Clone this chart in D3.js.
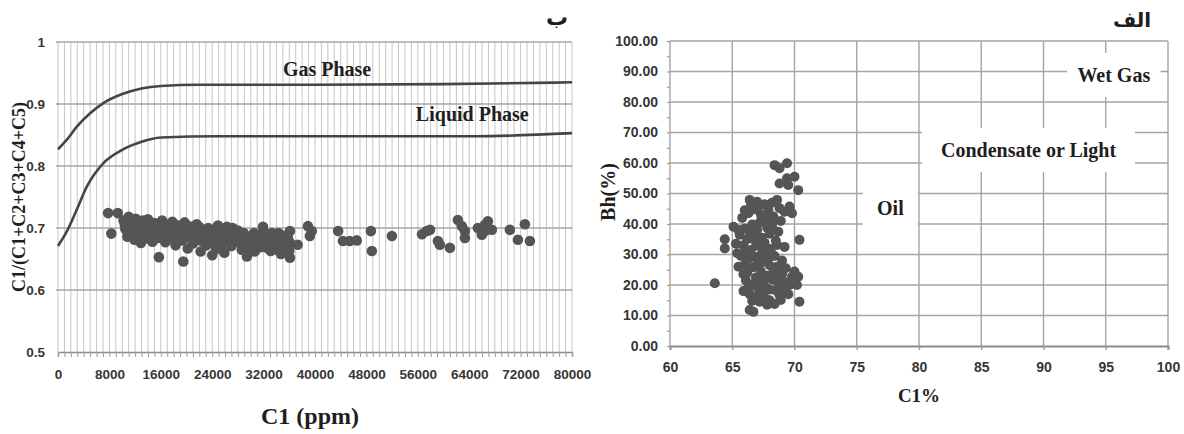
<!DOCTYPE html>
<html>
<head>
<meta charset="utf-8">
<script src="https://cdn.jsdelivr.net/npm/d3@7"></script>
<style>
  body { margin: 0; background: #fff; }
  svg { display: block; }
  .tick text { font-family: "Liberation Sans Narrow", "Arial Narrow", "Liberation Sans", sans-serif; font-weight: bold; fill: #363636; }
  .serif { font-family: "Liberation Serif", "Times New Roman", serif; font-weight: bold; fill: #1e1e1e; }
  .arabic { font-family: "DejaVu Sans", sans-serif; font-weight: bold; fill: #1e1e1e; }
</style>
</head>
<body>
<svg id="chart" width="1184" height="434"></svg>
<script>
// ---------- Left panel: C1/(C1+...+C5) against C1 (ppm) ----------
const ppmTicks = [0, 8000, 16000, 24000, 32000, 40000, 48000, 56000, 64000, 72000, 80000];
const ratioTicks = [0.5, 0.6, 0.7, 0.8, 0.9, 1];

// Boundary curves
const gasPhaseC1 = [0, 1350, 2900, 5000, 7000, 10000, 13000, 16000, 22000, 40000, 60000, 80000];
const gasPhaseRatio = [0.827, 0.842, 0.863, 0.885, 0.901, 0.916, 0.925, 0.929, 0.931, 0.931, 0.932, 0.935];
const liquidPhaseC1 = [0, 1350, 2900, 4500, 7000, 10000, 13000, 16000, 25000, 50000, 65000, 80000];
const liquidPhaseRatio = [0.671, 0.694, 0.729, 0.767, 0.804, 0.826, 0.839, 0.846, 0.848, 0.848, 0.848, 0.853];

// Samples: [C1 ppm, ratio]
const ratioSamples = [
  [7800,0.724],[9300,0.724],[8300,0.691],
  [10200,0.712],[10500,0.698],[10800,0.686],[11000,0.718],[11300,0.704],[11600,0.692],[11900,0.681],
  [12100,0.715],[12400,0.700],[12700,0.688],[12900,0.676],[13200,0.712],[13500,0.697],[13800,0.683],
  [14000,0.714],[14200,0.703],[14500,0.690],[14700,0.678],[15000,0.708],[15300,0.695],[15500,0.684],
  [15700,0.653],[15900,0.700],[16200,0.712],[16400,0.689],[16700,0.677],[17000,0.705],[17200,0.694],
  [17500,0.683],[17800,0.710],[18000,0.699],[18300,0.672],[18500,0.688],[18800,0.704],[19000,0.693],
  [19300,0.680],[19500,0.646],[19700,0.709],[20000,0.698],[20200,0.667],[20500,0.686],[20800,0.702],
  [21000,0.675],[21300,0.693],[21600,0.706],[21900,0.682],[22200,0.662],[22500,0.697],[22800,0.688],
  [23100,0.672],[23400,0.700],[23700,0.683],[24000,0.656],[24300,0.693],[24600,0.666],[24900,0.704],
  [25200,0.679],[25500,0.690],[25900,0.660],[26300,0.702],[26600,0.685],[27000,0.671],[27400,0.693],
  [27800,0.679],[28200,0.688],[28600,0.665],[29000,0.684],[29400,0.654],[29800,0.675],[30200,0.688],
  [30600,0.662],[31000,0.681],[31500,0.669],[31900,0.702],[32300,0.687],[32700,0.674],[33100,0.663],
  [33500,0.684],[33900,0.671],[34300,0.692],[34700,0.658],[35100,0.680],[35600,0.667],[36100,0.695],
  [36100,0.676],[36000,0.663],[36100,0.652],[37300,0.673],[38900,0.703],[39500,0.695],[39200,0.687],
  [10400,0.705],[10900,0.694],[11400,0.711],[11800,0.698],[12300,0.707],[12600,0.694],[13100,0.703],
  [13400,0.690],[13700,0.706],[14100,0.695],[14400,0.684],[14900,0.701],[15200,0.688],[15600,0.706],
  [16000,0.694],[16500,0.703],[16900,0.690],[17300,0.700],[17700,0.688],[18100,0.706],[18400,0.695],
  [18900,0.684],[19200,0.700],[19600,0.690],[20100,0.704],[20400,0.693],[20900,0.680],[21200,0.699],
  [21700,0.689],[22100,0.701],[22400,0.679],[22900,0.694],[23300,0.685],[23800,0.696],[24200,0.676],
  [24700,0.688],[25100,0.698],[25600,0.674],[26000,0.694],[26900,0.680],[27200,0.700],[27600,0.686],
  [28000,0.696],[28400,0.676],[28900,0.692],[29300,0.668],[29700,0.685],[30100,0.675],[30500,0.692],
  [30900,0.670],[31300,0.689],[31700,0.676],[32100,0.693],[32500,0.668],[32900,0.682],[33300,0.692],
  [33700,0.676],[34100,0.665],[34500,0.681],[34900,0.688],[35300,0.672],[35800,0.684],
  [43600,0.695],[44350,0.679],[45400,0.679],[46500,0.680],[48700,0.695],[48850,0.663],[51970,0.687],
  [56650,0.690],[57400,0.695],[57900,0.697],[59130,0.679],[59440,0.673],[61000,0.668],[62240,0.713],
  [62860,0.703],[63330,0.695],[63330,0.684],[65350,0.700],[65970,0.689],[66440,0.705],[66910,0.711],
  [67530,0.697],[66440,0.695],[70330,0.697],[71580,0.681],[72670,0.706],[73450,0.679]
];

// ---------- Right panel: Bh(%) against C1% ----------
const c1PctTicks = [60, 65, 70, 75, 80, 85, 90, 95, 100];
const bhTicks = [0, 10, 20, 30, 40, 50, 60, 70, 80, 90, 100];
const zoneNames = ["Wet Gas", "Condensate or Light", "Oil"];

// Samples: [C1 %, Bh %]
const bhSamples = [
  [68.4,59.3],[68.8,58.3],[69.4,59.9],[68.8,53.3],[69.4,55.0],[70.0,55.5],[69.5,52.8],[70.3,51.1],
  [63.6,20.6],[70.4,34.8],[70.4,14.5],[66.4,11.8],[66.7,11.2],[64.4,35.0],[64.4,32.0],[65.1,39.1],
  [65.4,30.4],[66.0,26.6],[66.4,47.9],[67.0,47.3],[67.6,46.5],[68.2,47.0],[68.6,47.9],[69.6,45.7],
  [69.8,43.5],[69.2,44.0],[68.6,33.1],[68.6,26.0],[68.8,16.6],[68.9,15.1],[70.0,24.4],[70.3,22.7],
  [70.2,20.0],[69.8,22.7],[65.8,42.0],[66.3,43.5],[66.8,44.8],[67.3,43.0],[67.9,44.5],[68.3,42.5],
  [68.9,41.0],[66.0,38.5],[66.6,39.8],[67.2,40.5],[67.8,38.8],[68.2,40.0],[68.7,37.5],[65.6,36.5],
  [66.2,35.0],[66.8,36.2],[67.4,35.5],[68.0,36.8],[68.5,34.5],[65.9,33.0],[66.5,31.5],[67.1,32.8],
  [67.6,30.8],[68.1,31.8],[66.3,28.5],[66.9,29.2],[67.4,27.5],[67.9,28.8],[68.4,29.5],[65.5,26.0],
  [66.2,24.0],[66.7,25.8],[67.3,24.5],[67.8,23.0],[68.3,24.2],[69.0,23.5],[69.3,25.5],[66.1,21.5],
  [66.6,20.0],[67.2,21.0],[67.7,19.2],[68.2,21.8],[68.7,20.5],[69.2,21.0],[65.9,18.0],[66.4,17.0],
  [67.0,16.2],[67.5,17.8],[68.0,15.0],[68.4,13.8],[67.8,13.5],[67.2,14.5],[66.6,14.8],[69.6,20.0],
  [69.5,17.0],[65.7,29.5],[69.0,28.0],[69.2,32.5],
  [66.0,44.5],[66.5,46.0],[67.1,45.5],[67.7,41.8],[67.0,38.0],[66.4,37.5],[67.6,33.8],[66.9,34.0],
  [68.3,38.2],[66.0,30.5],[67.3,29.8],[68.0,26.5],[67.0,26.8],[65.9,23.5],[66.9,22.5],[68.5,22.8],
  [67.5,21.5],[66.3,19.0],[67.1,18.8],[68.5,18.2],[68.0,18.5],[66.7,16.0],[67.6,15.8],[69.1,18.8],
  [65.3,33.5],[65.5,38.0],[68.8,45.2]
];

const svg = d3.select("#chart");
const dotColor = "#555555";

// ===== Left panel =====
const xL = d3.scaleLinear().domain([0, 80000]).range([58, 572]);
const yL = d3.scaleLinear().domain([0.5, 1]).range([352, 42]);
const left = svg.append("g");

// vertical grid every 1000 ppm
left.append("g").selectAll("line")
  .data(d3.range(0, 80001, 1000))
  .join("line")
  .attr("x1", d => xL(d)).attr("x2", d => xL(d))
  .attr("y1", yL(1)).attr("y2", yL(0.5))
  .attr("stroke", "#c6c6c6").attr("stroke-width", 1);

// horizontal grid
left.append("g").selectAll("line")
  .data(ratioTicks.slice(1))
  .join("line")
  .attr("x1", xL(0) - 2).attr("x2", xL(80000))
  .attr("y1", d => yL(d)).attr("y2", d => yL(d))
  .attr("stroke", "#a6a6a6").attr("stroke-width", 1.5);

// x axis: minor ticks then labelled ticks
const minorL = left.append("g").attr("transform", `translate(0,${yL(0.5)})`)
  .call(d3.axisBottom(xL).tickValues(d3.range(0, 80001, 1000)).tickSize(5).tickFormat(""));
minorL.selectAll("line").attr("stroke", "#9a9a9a");
minorL.select(".domain").attr("stroke", "#8c8c8c").attr("stroke-width", 1.5);

const axL = left.append("g").attr("transform", `translate(0,${yL(0.5)})`)
  .call(d3.axisBottom(xL).tickValues(ppmTicks).tickSize(0).tickPadding(17).tickFormat(d3.format("d")));
axL.select(".domain").remove();
axL.selectAll("text").style("font-size", "13.5px");

const ayL = left.append("g").attr("transform", `translate(${xL(0)},0)`)
  .call(d3.axisLeft(yL).tickValues(ratioTicks).tickSize(0).tickPadding(13)
    .tickFormat(d => d === 1 ? "1" : d.toFixed(1)));
ayL.select(".domain").remove();
ayL.selectAll("text").style("font-size", "13.5px");

// boundary curves
const curve = d3.line().x(d => xL(d[0])).y(d => yL(d[1])).curve(d3.curveMonotoneX);
[[gasPhaseC1, gasPhaseRatio], [liquidPhaseC1, liquidPhaseRatio]].forEach(([xs, ys]) => {
  left.append("path")
    .datum(xs.map((x, i) => [x, ys[i]]))
    .attr("d", curve)
    .attr("fill", "none")
    .attr("stroke", "#454545")
    .attr("stroke-width", 2.6);
});

// samples
left.append("g").selectAll("circle")
  .data(ratioSamples)
  .join("circle")
  .attr("cx", d => xL(d[0])).attr("cy", d => yL(d[1]))
  .attr("r", 5.3).attr("fill", dotColor);

// curve names
left.append("text").attr("class", "serif")
  .attr("x", xL(35000)).attr("y", yL(0.945))
  .style("font-size", "20px").text("Gas Phase");
left.append("text").attr("class", "serif")
  .attr("x", xL(55700)).attr("y", yL(0.873))
  .style("font-size", "20px").text("Liquid Phase");

// axis titles
left.append("text").attr("class", "serif")
  .attr("x", (xL(0) + xL(80000)) / 2 - 5).attr("y", 424)
  .attr("text-anchor", "middle")
  .style("font-size", "24px").text("C1 (ppm)");
left.append("text").attr("class", "serif")
  .attr("transform", `translate(25,${(yL(1) + yL(0.5)) / 2}) rotate(-90)`)
  .attr("text-anchor", "middle")
  .style("font-size", "18px").text("C1/(C1+C2+C3+C4+C5)");

left.append("text").attr("class", "arabic")
  .attr("x", 557).attr("y", 25)
  .attr("text-anchor", "middle")
  .style("font-size", "22px").text("ب");

// ===== Right panel =====
const xR = d3.scaleLinear().domain([60, 100]).range([670, 1168]);
const yR = d3.scaleLinear().domain([0, 100]).range([346, 41]);
const right = svg.append("g");

right.append("g").selectAll("line")
  .data(c1PctTicks)
  .join("line")
  .attr("x1", d => xR(d)).attr("x2", d => xR(d))
  .attr("y1", yR(100)).attr("y2", yR(0))
  .attr("stroke", "#a4a4a4").attr("stroke-width", 1.4);

right.append("g").selectAll("line")
  .data(bhTicks.slice(1))
  .join("line")
  .attr("x1", xR(60)).attr("x2", xR(100))
  .attr("y1", d => yR(d)).attr("y2", d => yR(d))
  .attr("stroke", "#a4a4a4").attr("stroke-width", 1.4);

// axes
const axR = right.append("g").attr("transform", `translate(0,${yR(0)})`)
  .call(d3.axisBottom(xR).tickValues(c1PctTicks).tickSize(4).tickPadding(12).tickFormat(d3.format("d")));
axR.select(".domain").attr("stroke", "#8a8a8a").attr("stroke-width", 2);
axR.selectAll("line").attr("stroke", "#9a9a9a").attr("stroke-width", 1.4);
axR.selectAll("text").style("font-size", "14px");

const minorR = right.append("g").attr("transform", `translate(${xR(60)},0)`)
  .call(d3.axisLeft(yR).tickValues(d3.range(0, 101, 5)).tickSize(3).tickFormat(""));
minorR.select(".domain").remove();
minorR.selectAll("line").attr("stroke", "#9a9a9a").attr("stroke-width", 1.2);

const ayR = right.append("g").attr("transform", `translate(${xR(60)},0)`)
  .call(d3.axisLeft(yR).tickValues(bhTicks).tickSize(0).tickPadding(12).tickFormat(d3.format(".2f")));
ayR.select(".domain").remove();
ayR.selectAll("text").style("font-size", "14px");

// zone labels on white boxes
const zoneBoxes = [
  { x0: 91.9, x1: 99.4, y0: 81.6, y1: 96.1 },
  { x0: 80.25, x1: 97.35, y0: 57.0, y1: 71.5 },
  { x0: 75.5, x1: 79.9, y0: 38.0, y1: 52.8 }
];
zoneNames.forEach((name, i) => {
  const b = zoneBoxes[i];
  right.append("rect")
    .attr("x", xR(b.x0)).attr("y", yR(b.y1))
    .attr("width", xR(b.x1) - xR(b.x0)).attr("height", yR(b.y0) - yR(b.y1))
    .attr("fill", "#fff");
  right.append("text").attr("class", "serif")
    .attr("x", (xR(b.x0) + xR(b.x1)) / 2)
    .attr("y", (yR(b.y0) + yR(b.y1)) / 2 + 7)
    .attr("text-anchor", "middle")
    .style("font-size", "20px").text(name);
});

right.append("g").selectAll("circle")
  .data(bhSamples)
  .join("circle")
  .attr("cx", d => xR(d[0])).attr("cy", d => yR(d[1]))
  .attr("r", 5).attr("fill", dotColor);

right.append("text").attr("class", "serif")
  .attr("x", 919).attr("y", 402)
  .attr("text-anchor", "middle")
  .style("font-size", "19px").text("C1%");
right.append("text").attr("class", "serif")
  .attr("transform", `translate(615,192) rotate(-90)`)
  .attr("text-anchor", "middle")
  .style("font-size", "20px").text("Bh(%)");

right.append("text").attr("class", "arabic")
  .attr("x", 1132).attr("y", 27)
  .attr("text-anchor", "middle")
  .style("font-size", "20px").text("الف");
</script>
</body>
</html>
